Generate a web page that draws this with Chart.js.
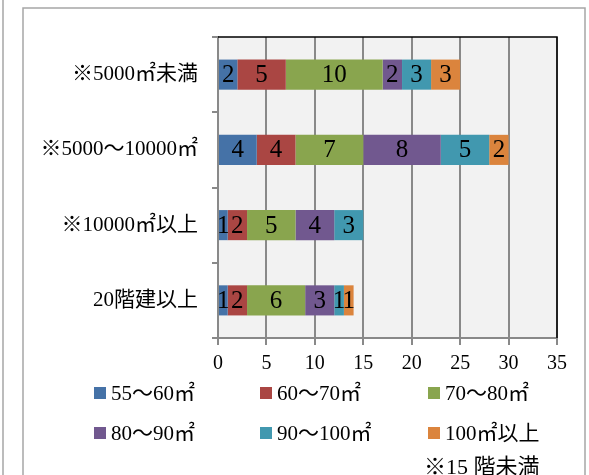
<!DOCTYPE html>
<html>
<head>
<meta charset="utf-8">
<script src="https://cdn.jsdelivr.net/npm/chart.js@4.4.0/dist/chart.umd.min.js"></script>
<style>
  html, body { margin: 0; padding: 0; background: #fff; }
  #wrap { width: 589px; height: 475px; position: relative; }
</style>
</head>
<body>
<div id="wrap"><canvas id="myChart"></canvas></div>
<script>
// categories (top to bottom) and series
var categories = ['※5000㎡未満', '※5000～10000㎡', '※10000㎡以上', '20階建以上'];
var seriesNames = ['55～60㎡', '60～70㎡', '70～80㎡', '80～90㎡', '90～100㎡', '100㎡以上'];
var s55_60 = [2, 4, 1, 1];
var s60_70 = [5, 4, 2, 2];
var s70_80 = [10, 7, 5, 6];
var s80_90 = [2, 8, 4, 3];
var s90_100 = [3, 5, 3, 1];
var s100up = [3, 2, 0, 1];
var xMin = 0, xMax = 35, xStep = 5;
var noteText = '※15 階未満';

var colors = ['#4572a7', '#aa4643', '#89a54e', '#71588f', '#4198af', '#db843d'];
var seriesValues = [s55_60, s60_70, s70_80, s80_90, s90_100, s100up];

var FONT = "'Liberation Serif', 'Noto Sans CJK JP', serif";
Chart.defaults.font.family = FONT;
Chart.defaults.color = '#000';

var datasets = seriesValues.map(function (vals, i) {
  return {
    label: seriesNames[i],
    data: vals,
    backgroundColor: colors[i],
    borderWidth: 0,
    barPercentage: 0.4,
    categoryPercentage: 1
  };
});

var framePlugin = {
  id: 'frame',
  beforeDraw: function (chart) {
    var c = chart.ctx, a = chart.chartArea;
    c.save();
    c.fillStyle = '#f2f2f2';
    c.fillRect(a.left, a.top, a.right - a.left, a.bottom - a.top);
    c.strokeStyle = '#a6a6a6';
    c.lineWidth = 1.5;
    c.beginPath();
    c.moveTo(23, 476); c.lineTo(23, 8); c.lineTo(585, 8); c.lineTo(585, 476);
    c.moveTo(3, 0); c.lineTo(3, 476);
    c.stroke();
    c.restore();
  },
  afterDraw: function (chart) {
    var c = chart.ctx, a = chart.chartArea;
    c.save();
    c.strokeStyle = '#000';
    c.lineWidth = 1.5;
    c.beginPath();
    c.moveTo(a.left, a.top); c.lineTo(a.right, a.top); c.lineTo(a.right, a.bottom);
    c.stroke();
    // legend in three aligned columns
    var colX = [94, 260, 428], rowY = [393, 433];
    c.font = '21px ' + FONT;
    c.textBaseline = 'middle';
    c.textAlign = 'left';
    chart.data.datasets.forEach(function (ds, i) {
      var x = colX[i % 3], y = rowY[Math.floor(i / 3)];
      c.fillStyle = ds.backgroundColor;
      c.fillRect(x, y - 6, 12, 12);
      c.fillStyle = '#000';
      c.fillText(ds.label, x + 17, y + 1);
    });
    c.font = '22px ' + FONT;
    c.fillText(noteText, 424, 468);
    c.restore();
  }
};

var valueLabels = {
  id: 'valueLabels',
  afterDatasetsDraw: function (chart) {
    var c = chart.ctx;
    c.save();
    c.font = '25px ' + FONT;
    c.fillStyle = '#000';
    c.textAlign = 'center';
    c.textBaseline = 'middle';
    chart.data.datasets.forEach(function (ds, i) {
      chart.getDatasetMeta(i).data.forEach(function (bar, j) {
        var v = ds.data[j];
        if (!v) return;
        var p = bar.getProps(['x', 'y', 'base'], true);
        c.fillText(String(v), (p.x + p.base) / 2, p.y + 1);
      });
    });
    c.restore();
  }
};

var ctx = document.getElementById('myChart').getContext('2d');
var myChart = new Chart(ctx, {
  type: 'bar',
  data: { labels: categories, datasets: datasets },
  options: {
    indexAxis: 'y',
    responsive: true,
    maintainAspectRatio: false,
    animation: false,
    layout: { padding: { left: 0, top: 37, right: 32, bottom: 97 } },
    plugins: {
      legend: { display: false },
      tooltip: { enabled: false }
    },
    scales: {
      x: {
        stacked: true,
        min: xMin,
        max: xMax,
        ticks: { stepSize: xStep, font: { size: 20 }, padding: 7, color: '#000' },
        grid: { color: '#898989', lineWidth: 2, tickLength: 7, drawTicks: true },
        border: { color: '#898989', width: 2 },
        afterFit: function (s) { s.height = 40; }
      },
      y: {
        stacked: true,
        ticks: { font: { size: 21 }, padding: 14, color: '#000' },
        grid: { drawOnChartArea: false, drawTicks: true, tickLength: 6, color: '#898989', lineWidth: 2, offset: true },
        border: { color: '#898989', width: 2 },
        afterFit: function (s) { s.width = 218; }
      }
    }
  },
  plugins: [framePlugin, valueLabels]
});
</script>
</body>
</html>
